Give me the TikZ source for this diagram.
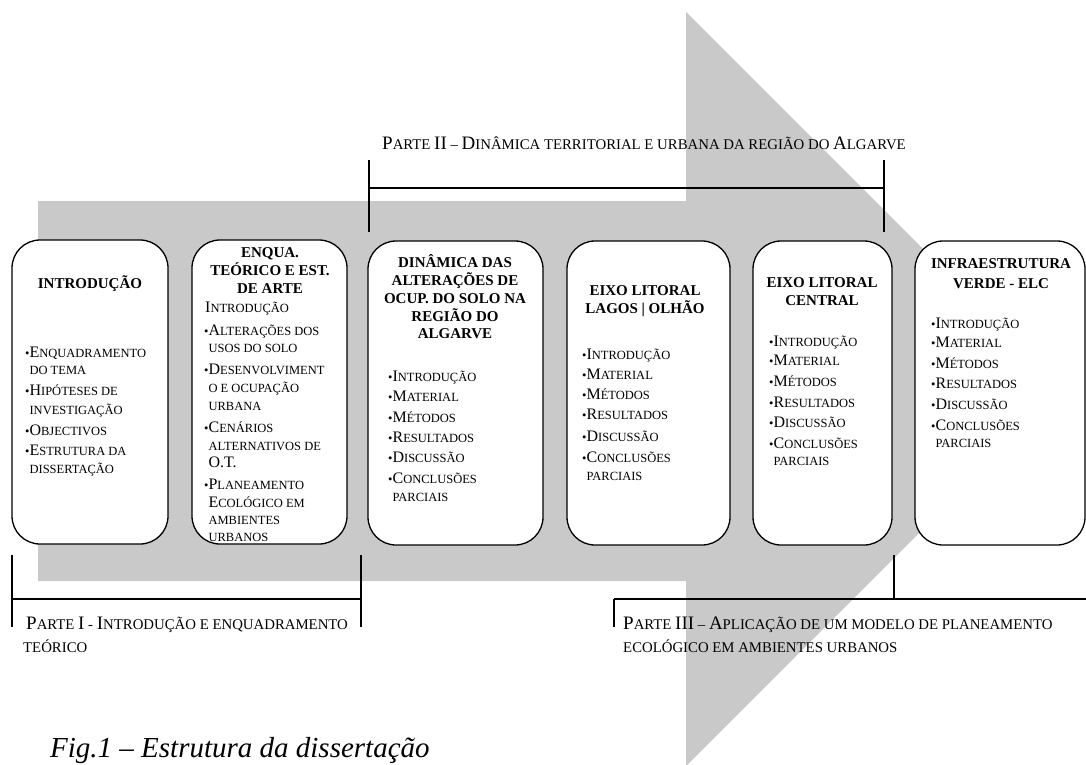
\documentclass[tikz,border=0pt]{standalone}
\usepackage{fontspec}
\setmainfont{Liberation Serif}
\definecolor{arrowgray}{RGB}{201,201,201}
\newcommand\Bg[1]{{\fontsize{16}{18}\selectfont #1}}
\newcommand\Pg[1]{{\fontsize{19}{22}\selectfont #1}}
\newcommand\hb{\hphantom{•}}
\begin{document}
\begin{tikzpicture}[x=1pt,y=-1pt,
  rbox/.style={draw=black, line width=1.3pt, fill=white, rounded corners=28pt, inner sep=0pt},
  brk/.style={line width=1.8pt, black},
  itm/.style={anchor=base west, inner sep=0pt, font=\fontsize{12.5}{15}\selectfont},
  ttl/.style={anchor=base, inner sep=0pt, font=\bfseries\fontsize{15}{18}\selectfont},
  parte/.style={anchor=base west, inner sep=0pt, font=\fontsize{14.8}{18}\selectfont},
  capt/.style={anchor=base west, inner sep=0pt, font=\itshape\fontsize{29}{34}\selectfont}]
\useasboundingbox (0,0) rectangle (1086,764);
% big gray arrow
\fill[arrowgray] (38,201) -- (686,201) -- (686,12) -- (1063,389) -- (686,766) -- (686,581) -- (38,581) -- cycle;
% boxes
\node[rbox, minimum width=156, minimum height=304] (b1) at (90,392) {};
\node[rbox, minimum width=155, minimum height=304] (b2) at (269.5,392) {};
\node[rbox, minimum width=175, minimum height=304] (b3) at (455.5,393) {};
\node[rbox, minimum width=163, minimum height=304] (b4) at (648.5,393) {};
\node[rbox, minimum width=139, minimum height=304] (b5) at (822.5,393) {};
\node[rbox, minimum width=170, minimum height=304] (b6) at (1000,393) {};
% brackets
\draw[brk] (369,160) -- (369,232);
\draw[brk] (884,160) -- (884,232);
\draw[brk] (369,188) -- (884,188);
\draw[brk] (12,555) -- (12,627);
\draw[brk] (361,555) -- (361,627);
\draw[brk] (12,599) -- (361,599);
\draw[brk] (614,599) -- (1086,599);
\draw[brk] (614,599) -- (614,627);
\draw[brk] (894,555) -- (894,599);
% parte labels
\node[parte] (p2) at (382,149) {\Pg{P}ARTE \Pg{II} – \Pg{D}INÂMICA TERRITORIAL E URBANA DA REGIÃO DO \Pg{A}LGARVE};
\node[parte] (p1a) at (26,629) {\Pg{P}ARTE \Pg{I} - \Pg{I}NTRODUÇÃO E ENQUADRAMENTO};
\node[parte] (p1b) at (23,652) {TEÓRICO};
\node[parte] (p3a) at (623,629) {\Pg{P}ARTE \Pg{III} – \Pg{A}PLICAÇÃO DE UM MODELO DE PLANEAMENTO};
\node[parte] (p3b) at (623,652) {ECOLÓGICO EM AMBIENTES URBANOS};
% box 1
\node[ttl] (b1t1) at (90,288) {INTRODUÇÃO};
\node[itm] (b1i1) at (25,357) {•\Bg{E}NQUADRAMENTO};
\node[itm] (b1i2) at (25,374) {\hb DO TEMA};
\node[itm] (b1i3) at (25,395) {•\Bg{H}IPÓTESES DE};
\node[itm] (b1i4) at (25,414) {\hb INVESTIGAÇÃO};
\node[itm] (b1i5) at (25,435) {•\Bg{O}BJECTIVOS};
\node[itm] (b1i6) at (25,455) {•\Bg{E}STRUTURA DA};
\node[itm] (b1i7) at (25,473) {\hb DISSERTAÇÃO};
% box 2
\node[ttl] (b2t1) at (270,257) {ENQUA.};
\node[ttl] (b2t2) at (270,275) {TEÓRICO E EST.};
\node[ttl] (b2t3) at (270,293) {DE ARTE};
\node[itm] (b2i0) at (205,312) {\Bg{I}NTRODUÇÃO};
\node[itm] (b2i1) at (204,335) {•\Bg{A}LTERAÇÕES DOS};
\node[itm] (b2i2) at (204,352) {\hb USOS DO SOLO};
\node[itm] (b2i3) at (204,374) {•\Bg{D}ESENVOLVIMENT};
\node[itm] (b2i4) at (204,392) {\hb O E OCUPAÇÃO};
\node[itm] (b2i5) at (204,410) {\hb URBANA};
\node[itm] (b2i6) at (204,432) {•\Bg{C}ENÁRIOS};
\node[itm] (b2i7) at (204,450) {\hb ALTERNATIVOS DE};
\node[itm] (b2i8) at (204,467) {\hb\Bg{O.T.}};
\node[itm] (b2i9) at (204,489) {•\Bg{P}LANEAMENTO};
\node[itm] (b2i10) at (204,507) {\hb\Bg{E}COLÓGICO EM};
\node[itm] (b2i11) at (204,524) {\hb AMBIENTES};
\node[itm] (b2i12) at (204,541) {\hb URBANOS};
% box 3
\node[ttl] (b3t1) at (455,267) {DINÂMICA DAS};
\node[ttl] (b3t2) at (455,285) {ALTERAÇÕES DE};
\node[ttl] (b3t3) at (455,303) {OCUP. DO SOLO NA};
\node[ttl] (b3t4) at (455,321) {REGIÃO DO};
\node[ttl] (b3t5) at (455,338) {ALGARVE};
\node[itm] (b3i1) at (388,381) {•\Bg{I}NTRODUÇÃO};
\node[itm] (b3i2) at (388,401) {•\Bg{M}ATERIAL};
\node[itm] (b3i3) at (388,422) {•\Bg{M}ÉTODOS};
\node[itm] (b3i4) at (388,442) {•\Bg{R}ESULTADOS};
\node[itm] (b3i5) at (388,462) {•\Bg{D}ISCUSSÃO};
\node[itm] (b3i6) at (388,483) {•\Bg{C}ONCLUSÕES};
\node[itm] (b3i7) at (388,501) {\hb PARCIAIS};
% box 4
\node[ttl] (b4t1) at (645,295) {EIXO LITORAL};
\node[ttl] (b4t2) at (645,313) {LAGOS | OLHÃO};
\node[itm] (b4i1) at (582,359) {•\Bg{I}NTRODUÇÃO};
\node[itm] (b4i2) at (582,379) {•\Bg{M}ATERIAL};
\node[itm] (b4i3) at (582,399) {•\Bg{M}ÉTODOS};
\node[itm] (b4i4) at (582,419) {•\Bg{R}ESULTADOS};
\node[itm] (b4i5) at (582,441) {•\Bg{D}ISCUSSÃO};
\node[itm] (b4i6) at (582,462) {•\Bg{C}ONCLUSÕES};
\node[itm] (b4i7) at (582,480) {\hb PARCIAIS};
% box 5
\node[ttl] (b5t1) at (822,287) {EIXO LITORAL};
\node[ttl] (b5t2) at (822,305) {CENTRAL};
\node[itm] (b5i1) at (769,346) {•\Bg{I}NTRODUÇÃO};
\node[itm] (b5i2) at (769,365) {•\Bg{M}ATERIAL};
\node[itm] (b5i3) at (769,386) {•\Bg{M}ÉTODOS};
\node[itm] (b5i4) at (769,407) {•\Bg{R}ESULTADOS};
\node[itm] (b5i5) at (769,427) {•\Bg{D}ISCUSSÃO};
\node[itm] (b5i6) at (769,448) {•\Bg{C}ONCLUSÕES};
\node[itm] (b5i7) at (769,465) {\hb PARCIAIS};
% box 6
\node[ttl] (b6t1) at (1001,268) {INFRAESTRUTURA};
\node[ttl] (b6t2) at (1001,288) {VERDE - ELC};
\node[itm] (b6i1) at (931,328) {•\Bg{I}NTRODUÇÃO};
\node[itm] (b6i2) at (931,347) {•\Bg{M}ATERIAL};
\node[itm] (b6i3) at (931,368) {•\Bg{M}ÉTODOS};
\node[itm] (b6i4) at (931,388) {•\Bg{R}ESULTADOS};
\node[itm] (b6i5) at (931,409) {•\Bg{D}ISCUSSÃO};
\node[itm] (b6i6) at (931,430) {•\Bg{C}ONCLUSÕES};
\node[itm] (b6i7) at (931,447) {\hb PARCIAIS};
% caption
\node[capt] (cap) at (50,757) {Fig.1 – Estrutura da dissertação};
\end{tikzpicture}
\end{document}
